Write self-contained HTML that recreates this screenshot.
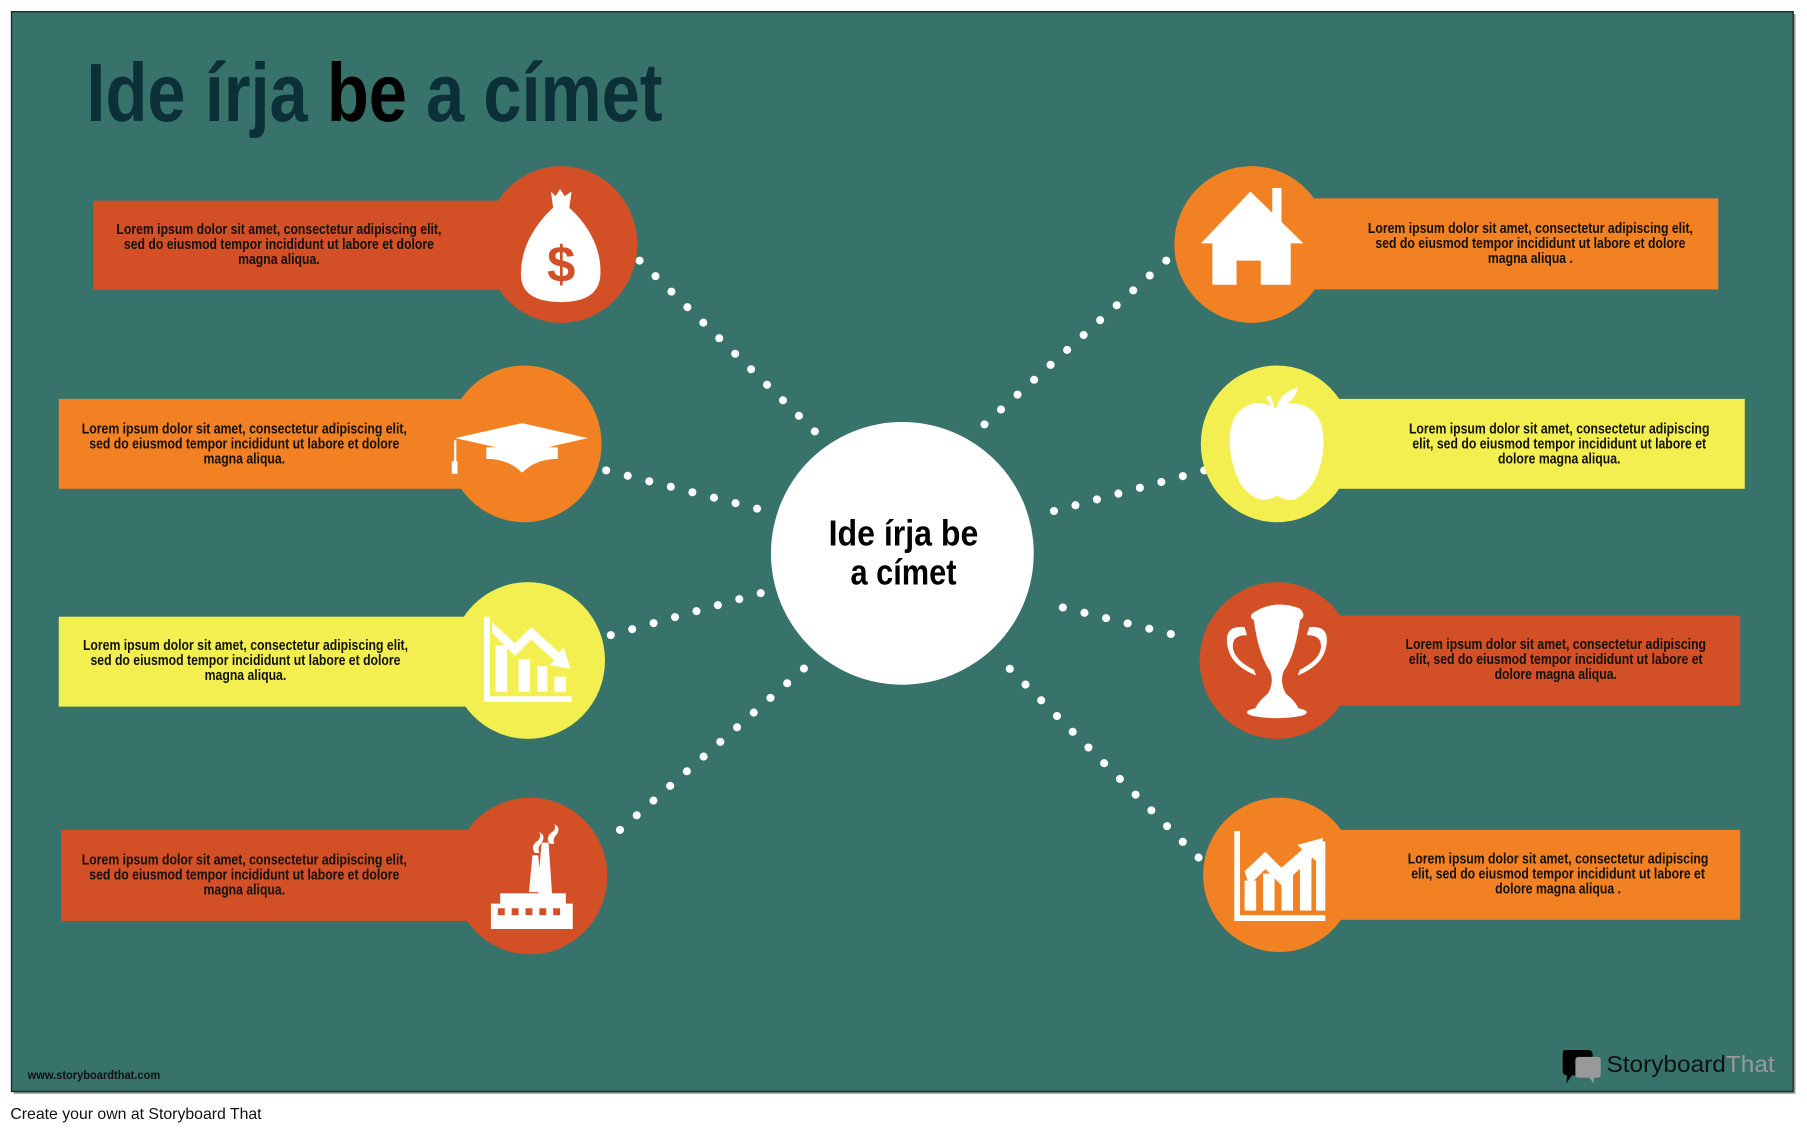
<!DOCTYPE html>
<html><head><meta charset="utf-8"><style>
html,body{margin:0;padding:0;background:#fff;width:1807px;height:1132px;overflow:hidden}
svg{display:block}
text{font-family:"Liberation Sans",sans-serif;font-weight:bold}
</style></head><body>
<svg width="1807" height="1132" viewBox="0 0 1568 982" xmlns="http://www.w3.org/2000/svg">
<rect x="12" y="12" width="1546" height="937" fill="#999"/>
<rect x="10" y="10" width="1546" height="937" fill="#38736b" stroke="#1c2c2a" stroke-width="1.2"/>
<text x="75" y="105" font-size="72" fill="#0b3038" textLength="500" lengthAdjust="spacingAndGlyphs">Ide írja <tspan fill="#000">be</tspan> a címet</text>

<g stroke="#fff" stroke-width="7" stroke-linecap="round" stroke-dasharray="0 19.3" fill="none">
<line x1="555" y1="226" x2="711" y2="378"/>
<line x1="526" y1="408" x2="660" y2="442"/>
<line x1="530" y1="551" x2="662" y2="514"/>
<line x1="538" y1="720" x2="701" y2="577"/>
<line x1="1012" y1="226" x2="850" y2="372"/>
<line x1="1045" y1="408" x2="912" y2="444"/>
<line x1="1016" y1="550" x2="910" y2="524"/>
<line x1="1040" y1="744" x2="866" y2="570"/>
</g>

<circle cx="783" cy="480" r="114" fill="#fff"/>
<text x="719" y="473" font-size="31" fill="#000" textLength="130" lengthAdjust="spacingAndGlyphs">Ide írja be</text>
<text x="738" y="507" font-size="31" fill="#000" textLength="92" lengthAdjust="spacingAndGlyphs">a címet</text>

<!-- left bars -->
<rect x="81" y="174" width="380" height="77" fill="#d35027"/><ellipse cx="487" cy="212" rx="66" ry="68" fill="#d35027"/>
<rect x="51" y="346" width="380" height="78" fill="#f28123"/><ellipse cx="455" cy="385" rx="67" ry="68" fill="#f28123"/>
<rect x="51" y="535" width="380" height="78" fill="#f4ef50"/><ellipse cx="458" cy="573" rx="67" ry="68" fill="#f4ef50"/>
<rect x="53" y="720" width="380" height="79" fill="#d35027"/><ellipse cx="460" cy="760" rx="67" ry="68" fill="#d35027"/>
<!-- right bars -->
<rect x="1110" y="172" width="381" height="79" fill="#f28123"/><ellipse cx="1086" cy="212" rx="67" ry="68" fill="#f28123"/>
<rect x="1130" y="346" width="384" height="78" fill="#f4ef50"/><ellipse cx="1108" cy="385" rx="66" ry="68" fill="#f4ef50"/>
<rect x="1130" y="534" width="380" height="78" fill="#d35027"/><ellipse cx="1108" cy="573" rx="67" ry="68" fill="#d35027"/>
<rect x="1130" y="720" width="380" height="78" fill="#f28123"/><ellipse cx="1110" cy="759" rx="66" ry="67" fill="#f28123"/>

<g font-size="12.5" fill="#111" text-anchor="middle">
<g transform="translate(242,0) scale(0.85,1)"><text x="0" y="203">Lorem ipsum dolor sit amet, consectetur adipiscing elit,</text><text x="0" y="216">sed do eiusmod tempor incididunt ut labore et dolore</text><text x="0" y="229">magna aliqua.</text></g>
<g transform="translate(212,0) scale(0.85,1)"><text x="0" y="376">Lorem ipsum dolor sit amet, consectetur adipiscing elit,</text><text x="0" y="389">sed do eiusmod tempor incididunt ut labore et dolore</text><text x="0" y="402">magna aliqua.</text></g>
<g transform="translate(213,0) scale(0.85,1)"><text x="0" y="564">Lorem ipsum dolor sit amet, consectetur adipiscing elit,</text><text x="0" y="577">sed do eiusmod tempor incididunt ut labore et dolore</text><text x="0" y="590">magna aliqua.</text></g>
<g transform="translate(212,0) scale(0.85,1)"><text x="0" y="750">Lorem ipsum dolor sit amet, consectetur adipiscing elit,</text><text x="0" y="763">sed do eiusmod tempor incididunt ut labore et dolore</text><text x="0" y="776">magna aliqua.</text></g>
<g transform="translate(1328,0) scale(0.85,1)"><text x="0" y="202">Lorem ipsum dolor sit amet, consectetur adipiscing elit,</text><text x="0" y="215">sed do eiusmod tempor incididunt ut labore et dolore</text><text x="0" y="228">magna aliqua .</text></g>
<g transform="translate(1353,0) scale(0.85,1)"><text x="0" y="376">Lorem ipsum dolor sit amet, consectetur adipiscing</text><text x="0" y="389">elit, sed do eiusmod tempor incididunt ut labore et</text><text x="0" y="402">dolore magna aliqua.</text></g>
<g transform="translate(1350,0) scale(0.85,1)"><text x="0" y="563">Lorem ipsum dolor sit amet, consectetur adipiscing</text><text x="0" y="576">elit, sed do eiusmod tempor incididunt ut labore et</text><text x="0" y="589">dolore magna aliqua.</text></g>
<g transform="translate(1352,0) scale(0.85,1)"><text x="0" y="749">Lorem ipsum dolor sit amet, consectetur adipiscing</text><text x="0" y="762">elit, sed do eiusmod tempor incididunt ut labore et</text><text x="0" y="775">dolore magna aliqua .</text></g>
</g>

<g fill="#fff">
<path d="M478 166 L482 170 L486 164 L490 170 L496 166 L494 180 L500 186 Q522 210 521 238 Q520 262 487 262 Q452 262 452 238 Q452 210 474 186 L480 180 Z"/>
<text x="487" y="244" font-size="44" fill="#d35027" text-anchor="middle">$</text>
<polygon points="395,380 453,367 510,380 453,393"/>
<path d="M422 388 L484 388 L484 398 Q465 398 453 410 Q441 398 422 398 Z"/>
<rect x="394" y="382" width="2" height="20"/><rect x="392" y="400" width="5" height="11"/>
<path d="M420 535 h5 v69 h71 v5 h-76 Z"/>
<path d="M427 540 l20 18 l14-14 l24 22 l4-4 l6 18 l-18-3 l4-4 l-20-18 l-14 14 l-20-20 Z"/>
<rect x="430" y="560" width="10" height="40"/><rect x="450" y="572" width="10" height="28"/><rect x="466" y="578" width="9" height="22"/><rect x="481" y="587" width="10" height="13"/>
<path d="M426 784 h8 v-9 h33 v-10 l3 -34 h6 l3 44 h12 v9 h6 v22 h-71 Z"/>
<path d="M459 774 l3 -32 h5 l3 32 Z"/>
<g fill="#d35027"><rect x="432" y="788" width="6" height="6"/><rect x="444" y="788" width="6" height="6"/><rect x="456" y="788" width="6" height="6"/><rect x="468" y="788" width="6" height="6"/><rect x="480" y="788" width="6" height="6"/></g>
<path d="M464 740 q-4-6 2-10 q4-3 2-8 q6 3 2 9 q-4 4 -2 9 Z"/>
<path d="M477 732 q-4-6 2-10 q4-3 2-7 q6 3 2 9 q-4 4 -2 8 Z"/>
<polygon points="1042,211 1085,166 1131,211"/>
<rect x="1104" y="163" width="8" height="32"/>
<path d="M1052 205 h68 v42 h-26 v-21 h-21 v21 h-21 Z"/>
<path d="M1106 354 q-16 -10 -30 2 q-12 12 -8 38 q5 30 22 38 q8 4 18 -2 q10 6 18 2 q18 -10 22 -40 q3 -28 -12 -38 q-14 -8 -30 0 Z"/>
<path d="M1098 345 q5 4 6 12 l2 0 q0 -6 -4 -14 Z"/><path d="M1108 352 q4 -12 18 -16 q-2 12 -16 18 Z"/>
<path d="M1090 530 q18 -10 38 -2 q6 6 0 10 q-4 30 -14 44 q-4 10 2 20 q10 8 12 16 h-40 q2 -8 12 -16 q6 -10 2 -20 q-10 -14 -14 -44 q-6 -4 2 -8 Z"/>
<path d="M1080 544 q-20 -2 -14 20 q4 14 24 22 l-2 -5 q-16 -8 -18 -18 q-2 -12 12 -12 Z"/>
<path d="M1136 544 q20 -2 14 20 q-4 14 -24 22 l2 -5 q16 -8 18 -18 q2 -12 -12 -12 Z"/>
<ellipse cx="1108" cy="618" rx="26" ry="5"/>
<path d="M1071 721 h5 v73 h74 v5 h-79 Z"/>
<rect x="1080" y="764" width="10" height="26"/><rect x="1096" y="758" width="10" height="32"/><rect x="1112" y="752" width="10" height="38"/><rect x="1128" y="740" width="10" height="50"/><rect x="1142" y="730" width="8" height="60"/>
<path d="M1080 756 l18 -17 l14 14 l18 -16 l-4 -4 l22 -6 l-4 22 l-5 -5 l-27 24 l-14 -14 l-14 14 Z"/>
</g>

<text x="24" y="936" font-size="10" fill="#111" textLength="115" lengthAdjust="spacingAndGlyphs">www.storyboardthat.com</text>
<path d="M1358 911 h20 q4 0 4 4 v14 q0 4 -4 4 h-14 l-5 7 l1 -7 q-4 0 -4 -4 v-14 q0 -4 2 -4 Z" fill="#000"/>
<path d="M1370 917 h16 q3 0 3 3 v12 q0 3 -3 3 h-3 l0 5 l-4 -5 h-9 q-3 0 -3 -3 v-12 q0 -3 3 -3 Z" fill="#999"/>
<text x="1394" y="930" font-size="20" style="font-weight:normal" fill="#111" textLength="146" lengthAdjust="spacingAndGlyphs">Storyboard<tspan fill="#999">That</tspan></text>

<text x="9" y="971" font-size="13.5" fill="#111" style="font-weight:normal" textLength="218" lengthAdjust="spacingAndGlyphs">Create your own at Storyboard That</text>
</svg>
</body></html>
